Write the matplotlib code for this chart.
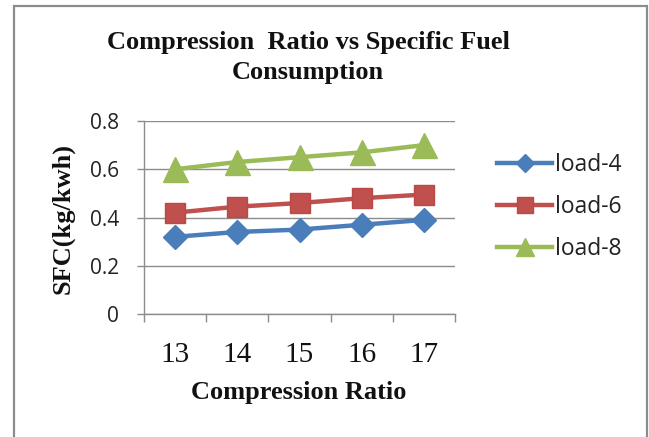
import matplotlib
matplotlib.use("Agg")
import matplotlib.pyplot as plt
from matplotlib.patches import Rectangle

categories = [13, 14, 15, 16, 17]
load4 = [0.32, 0.34, 0.35, 0.37, 0.39]
load6 = [0.42, 0.445, 0.46, 0.48, 0.495]
load8 = [0.60, 0.63, 0.65, 0.67, 0.70]
yticks = [0, 0.2, 0.4, 0.6, 0.8]
ytick_labels = ["0", "0.2", "0.4", "0.6", "0.8"]

W, H = 649, 437
fig = plt.figure(figsize=(W / 100, H / 100), dpi=100)
fig.patch.set_facecolor("white")

# outer chart border
fig.add_artist(Rectangle((14 / W, -0.05), (647 - 14) / W, (1 - 6 / H) + 0.05,
                         transform=fig.transFigure, fill=False,
                         edgecolor="#8c8c8c", lw=1.6))

ax = fig.add_axes([144 / W, 1 - 314 / H, (455 - 144) / W, (314 - 121) / H])
x = list(range(len(categories)))

ax.plot(x, load4, color="#4A7EBB", lw=3.2, marker="D", ms=12,
        markerfacecolor="#4A7EBB", markeredgecolor="#4A7EBB", label="load-4", zorder=3)
ax.plot(x, load6, color="#C0504D", lw=3.2, marker="s", ms=15,
        markerfacecolor="#C0504D", markeredgecolor="#B94A47", label="load-6", zorder=3)
ax.plot(x, load8, color="#9BBB59", lw=3.2, marker="^", ms=18,
        markerfacecolor="#9BBB59", markeredgecolor="#9BBB59", label="load-8", zorder=3)

ax.set_xlim(-0.5, len(categories) - 0.5)
ax.set_ylim(0, 0.8)
ax.set_yticks(yticks)
ax.set_yticklabels(ytick_labels, family="Open Sans", fontsize=15, color="#222222")
ax.grid(axis="y", color="#8c8c8c", lw=1.0)
ax.set_axisbelow(True)

ax.set_xticks(x)
ax.set_xticklabels([str(c) for c in categories], family="Liberation Serif",
                   fontsize=21, color="#111111")
ax.set_xticks([i - 0.5 for i in range(len(categories) + 1)], minor=True)
ax.tick_params(axis="x", which="major", length=0, pad=20)
ax.tick_params(axis="x", which="minor", length=5.5, color="#8c8c8c", width=1)
ax.tick_params(axis="y", length=5, color="#8c8c8c", width=1, pad=13)

for s in ["top", "right"]:
    ax.spines[s].set_visible(False)
for s in ["left", "bottom"]:
    ax.spines[s].set_color("#8c8c8c")
    ax.spines[s].set_linewidth(1.0)

fig.text(299 / W, 1 - 392 / H, "Compression Ratio", family="Liberation Serif",
         weight="bold", fontsize=19, ha="center", va="center", color="#111111")
fig.text(63 / W, 1 - 218 / H, "SFC(kg/kwh)", family="Liberation Serif",
         weight="bold", fontsize=19, ha="center", va="center", rotation=90, color="#111111")
fig.text(308 / W, 1 - 42 / H, "Compression  Ratio vs Specific Fuel",
         family="Liberation Serif", weight="bold", fontsize=19, ha="center",
         va="center", color="#111111")
fig.text(308 / W, 1 - 72 / H, "Consumption",
         family="Liberation Serif", weight="bold", fontsize=19, ha="center",
         va="center", color="#111111")

leg = fig.legend(loc="center left", bbox_to_anchor=(497 / W, 1 - 207 / H),
                 frameon=False, prop={"family": "Open Sans", "size": 16.5},
                 handlelength=2.4, handletextpad=0.15, labelspacing=0.78,
                 borderpad=0, borderaxespad=0, markerscale=0.75)
for t in leg.get_texts():
    t.set_color("#222222")

fig.savefig("out.png", dpi=100)
